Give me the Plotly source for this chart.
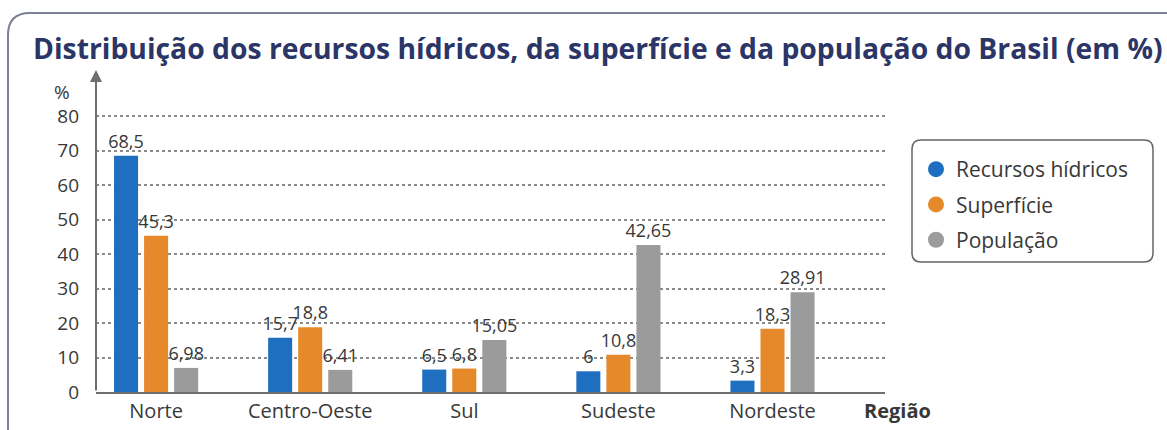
import plotly.graph_objects as go

regioes = ["Norte", "Centro-Oeste", "Sul", "Sudeste", "Nordeste"]
recursos_hidricos = [68.5, 15.7, 6.5, 6, 3.3]
superficie = [45.3, 18.8, 6.8, 10.8, 18.3]
populacao = [6.98, 6.41, 15.05, 42.65, 28.91]
y_ticks = [0, 10, 20, 30, 40, 50, 60, 70, 80]

series = [
    ("Recursos hídricos", recursos_hidricos, "#1f6fc0"),
    ("Superfície", superficie, "#e5892a"),
    ("População", populacao, "#9b9b9b"),
]

W, H = 1167, 430
L, R, T, B = 96, 282, 115, 38
pw, ph = W - L - R, H - T - B

def px_x(p):
    return (p - L) / pw

def px_y(p):
    return (H - B - p) / ph

def fmt(v):
    return f"{v:g}".replace(".", ",")

FONT = "Open Sans"
TXT = "#383838"

fig = go.Figure()
for i, (name, vals, col) in enumerate(series):
    fig.add_trace(go.Bar(
        x=regioes, y=vals, name=name, marker_color=col, marker_line_width=0,
        text=[fmt(v) for v in vals], textposition="outside", textangle=0,
        constraintext="none", cliponaxis=False,
        textfont=dict(family=FONT, size=18, color=TXT),
        showlegend=False,
    ))
    fig.add_trace(go.Scatter(
        x=[None], y=[None], mode="markers", name=name,
        marker=dict(symbol="circle", size=22, color=col),
        legendgroup=f"g{i}",
    ))

shapes = []
# outer rounded frame
x0, yt = px_x(8), px_y(13)
rx, ry = 22 / pw, 22 / ph
shapes.append(dict(
    type="path", xref="paper", yref="paper",
    path=f"M {x0},{px_y(440)} L {x0},{yt - ry} Q {x0},{yt} {x0 + rx},{yt} L {px_x(1180)},{yt}",
    line=dict(color="#7c8098", width=2),
))
# legend rounded box
lx0, lx1, ly0, ly1 = px_x(912), px_x(1153), px_y(262), px_y(140)
r2x, r2y = 9 / pw, 9 / ph
shapes.append(dict(
    type="path", xref="paper", yref="paper",
    path=(f"M {lx0 + r2x},{ly1} L {lx1 - r2x},{ly1} Q {lx1},{ly1} {lx1},{ly1 - r2y} "
          f"L {lx1},{ly0 + r2y} Q {lx1},{ly0} {lx1 - r2x},{ly0} L {lx0 + r2x},{ly0} "
          f"Q {lx0},{ly0} {lx0},{ly0 + r2y} L {lx0},{ly1 - r2y} Q {lx0},{ly1} {lx0 + r2x},{ly1} Z"),
    line=dict(color="#666666", width=1.5), fillcolor="white", layer="below",
))

annotations = [
    # y axis with arrow
    dict(xref="paper", yref="paper", x=0, y=px_y(70), ax=0, ay=322,
         axref="pixel", ayref="pixel", text="", showarrow=True,
         arrowhead=2, arrowsize=1.2, arrowwidth=2, arrowcolor="#6e6e6e"),
    dict(xref="paper", yref="paper", x=px_x(62), y=px_y(92), text="%",
         showarrow=False, xanchor="center", yanchor="middle",
         font=dict(family=FONT, size=19, color=TXT)),
    dict(xref="paper", yref="paper", x=px_x(862), y=px_y(410), text="<b>Região</b>",
         showarrow=False, xanchor="left", yanchor="middle",
         font=dict(family=FONT, size=20, color=TXT)),
]

fig.update_layout(
    width=W, height=H,
    margin=dict(l=L, r=R, t=T, b=B, autoexpand=False),
    paper_bgcolor="white", plot_bgcolor="white",
    barmode="group", bargap=0.415, bargroupgap=0.2,
    title=dict(text="<b>Distribuição dos recursos hídricos, da superfície e da população do Brasil (em %)</b>",
               x=33 / W, xanchor="left", y=1 - 49 / H, yanchor="middle", xref="container", yref="container",
               font=dict(family=FONT, size=28.3, color="#2b3566")),
    xaxis=dict(range=[-0.39, 4.73], showline=True, linecolor="#6e6e6e", linewidth=2,
               showgrid=False, ticks="", automargin=False,
               tickfont=dict(family=FONT, size=20, color=TXT)),
    yaxis=dict(range=[0, 80.3], tickvals=y_ticks, showline=False, zeroline=False,
               showgrid=True, gridcolor="#8a8a8a", gridwidth=1.5, griddash="dot",
               ticks="", ticklabelstandoff=16, automargin=False,
               tickfont=dict(family=FONT, size=19, color=TXT)),
    legend=dict(x=px_x(916), y=px_y(149), xanchor="left", yanchor="top",
                xref="paper", yref="paper", bgcolor="rgba(0,0,0,0)", borderwidth=0,
                tracegroupgap=5, font=dict(family=FONT, size=21, color=TXT)),
    shapes=shapes, annotations=annotations,
)

fig.write_html("out.html", post_script="document.body.style.margin='0';",
               config={"displayModeBar": False})
